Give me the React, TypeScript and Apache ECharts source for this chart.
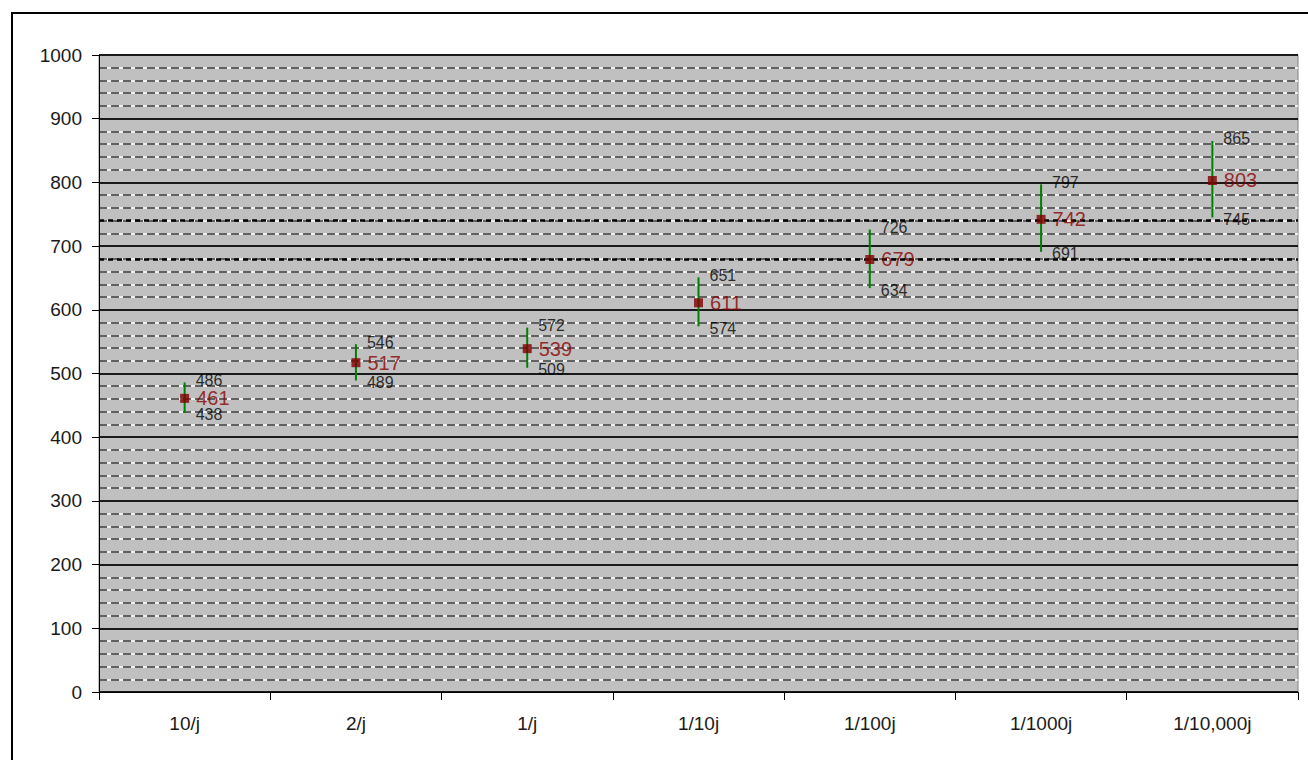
import React, { useEffect, useRef } from "react";
import * as echarts from "echarts";

const categories = ["10/j", "2/j", "1/j", "1/10j", "1/100j", "1/1000j", "1/10,000j"];
const midValues = [461, 517, 539, 611, 679, 742, 803];
const highValues = [486, 546, 572, 651, 726, 797, 865];
const lowValues = [438, 489, 509, 574, 634, 691, 745];
const refLines = [680, 740];

const FONT = "'Liberation Sans', Arial, sans-serif";

export default function App() {
  const ref = useRef<HTMLDivElement>(null);
  useEffect(() => {
    if (!ref.current) return;
    const chart = echarts.init(ref.current, undefined, { renderer: "svg" });
    const barData = categories.map((_, i) => [i, lowValues[i], highValues[i]]);
    chart.setOption({
      animation: false,
      backgroundColor: "#ffffff",
      textStyle: { fontFamily: FONT },
      graphic: [
        {
          type: "rect",
          shape: { x: 12, y: 13, width: 1400, height: 800 },
          style: { fill: "none", stroke: "#000", lineWidth: 2 },
          silent: true,
        },
      ],
      grid: {
        left: 99,
        top: 55,
        right: 10,
        bottom: 68,
        show: true,
        backgroundColor: "#C0C0C0",
        borderColor: "#808080",
        borderWidth: 1,
      },
      xAxis: {
        type: "category",
        data: categories,
        boundaryGap: true,
        axisLine: { lineStyle: { color: "#000", width: 1 } },
        axisTick: { show: true, length: 8, alignWithLabel: false, lineStyle: { color: "#000" } },
        axisLabel: { color: "#1a1a1a", fontSize: 19, fontFamily: FONT, margin: 22 },
        splitLine: { show: false },
      },
      yAxis: [
        {
          type: "value",
          min: 0,
          max: 1000,
          interval: 20,
          position: "left",
          axisLine: { show: false },
          axisTick: { show: false },
          axisLabel: { show: false },
          splitLine: { show: true, lineStyle: { color: "#ffffff", width: 1.5 } },
        },
        {
          type: "value",
          min: 0,
          max: 1000,
          interval: 100,
          position: "left",
          axisLine: { show: true, lineStyle: { color: "#000", width: 1 } },
          axisTick: { show: true, length: 7, lineStyle: { color: "#000" } },
          axisLabel: {
            color: "#1a1a1a",
            fontSize: 19,
            fontFamily: FONT,
            margin: 17,
            formatter: (v: number) => String(v),
          },
          splitLine: { show: true, lineStyle: { color: "#1a1a1a", width: 1.8 } },
          minorTick: { show: false, splitNumber: 5 },
          minorSplitLine: { show: true, lineStyle: { color: "#333333", width: 1.6, type: [8, 4] } },
        },
      ],
      series: [
        {
          type: "custom",
          xAxisIndex: 0,
          yAxisIndex: 1,
          data: barData,
          encode: { x: 0, y: [1, 2] },
          renderItem: (params: any, api: any) => {
            const x = api.value(0);
            const lo = api.coord([x, api.value(1)]);
            const hi = api.coord([x, api.value(2)]);
            return {
              type: "line",
              shape: { x1: lo[0], y1: lo[1], x2: hi[0], y2: hi[1] },
              style: { stroke: "#008000", lineWidth: 2 },
            };
          },
          markLine: {
            silent: true,
            symbol: "none",
            label: { show: false },
            lineStyle: { color: "#000", width: 2.5, type: [5, 4] },
            data: refLines.map((v) => ({ yAxis: v })),
          },
          z: 3,
        },
        {
          type: "scatter",
          yAxisIndex: 1,
          data: highValues,
          symbolSize: 0,
          label: {
            show: true,
            position: "right",
            distance: 11,
            offset: [0, -2],
            color: "#000",
            fontSize: 16,
            fontFamily: FONT,
          },
          z: 4,
        },
        {
          type: "scatter",
          yAxisIndex: 1,
          data: lowValues,
          symbolSize: 0,
          label: {
            show: true,
            position: "right",
            distance: 11,
            offset: [0, 2],
            color: "#000",
            fontSize: 16,
            fontFamily: FONT,
          },
          z: 4,
        },
        {
          type: "scatter",
          yAxisIndex: 1,
          data: midValues,
          symbol: "rect",
          symbolSize: 9,
          itemStyle: { color: "#800000" },
          label: {
            show: true,
            position: "right",
            distance: 7,
            color: "#8B0000",
            fontSize: 20,
            fontFamily: FONT,
          },
          z: 5,
        },
      ],
    });
    return () => chart.dispose();
  }, []);
  return (
    <div
      ref={ref}
      style={{ position: "fixed", left: 0, top: 0, width: 1308, height: 760 }}
    />
  );
}
